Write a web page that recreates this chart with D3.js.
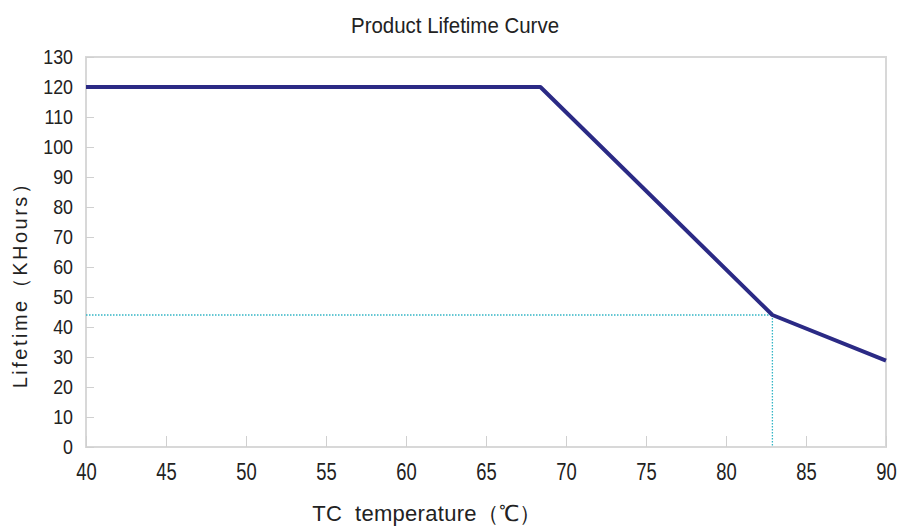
<!DOCTYPE html>
<html>
<head>
<meta charset="utf-8">
<script src="https://cdn.jsdelivr.net/npm/d3@7"></script>
<style>
  body { margin: 0; background: #fff; }
  text { font-family: "Liberation Sans", Arial, sans-serif; fill: #222; }
</style>
</head>
<body>
<div id="chart"></div>
<script>
// curve points
var temps = [40, 68.4, 82.9, 90];
var lifetimes = [120, 120, 44, 28.8];
// marked point (dotted guide lines)
var markTemp = 82.9;
var markLife = 44;
var xTicks = [40, 45, 50, 55, 60, 65, 70, 75, 80, 85, 90];
var yTicks = [0, 10, 20, 30, 40, 50, 60, 70, 80, 90, 100, 110, 120, 130];

var margin = { top: 57, right: 15, bottom: 85, left: 86 },
  width = 901 - margin.left - margin.right,
  height = 532 - margin.top - margin.bottom;

var x = d3.scaleLinear().domain([40, 90]).range([0, width]);
var y = d3.scaleLinear().domain([0, 130]).range([height, 0]);

var svg = d3.select("#chart").append("svg")
  .attr("width", 901)
  .attr("height", 532);

var g = svg.append("g")
  .attr("transform", "translate(" + margin.left + "," + margin.top + ")");

// frame
g.append("rect")
  .attr("width", width)
  .attr("height", height)
  .attr("fill", "none")
  .attr("stroke", "#d8d8d8")
  .attr("stroke-width", 2);

// axes, inward ticks
var xAxis = g.append("g")
  .attr("transform", "translate(0," + height + ")")
  .call(d3.axisBottom(x).tickValues(xTicks).tickSizeInner(-11).tickSizeOuter(0).tickPadding(17));
var yAxis = g.append("g")
  .call(d3.axisLeft(y).tickValues(yTicks).tickSizeInner(-8).tickSizeOuter(0));

[xAxis, yAxis].forEach(function (ax) {
  ax.select(".domain").remove();
  ax.selectAll(".tick line").attr("stroke", "#d0d0d0");
});

// the original font is a narrow one, so squeeze the labels a bit
xAxis.selectAll(".tick text")
  .style("font-size", "23px")
  .attr("fill", "#222")
  .attr("transform", "scale(0.8,1)");
yAxis.selectAll(".tick text")
  .style("font-size", "21px")
  .attr("fill", "#222")
  .attr("x", -13 / 0.85)
  .attr("transform", "scale(0.85,1)");

// dotted guides
g.append("line")
  .attr("x1", x(40)).attr("x2", x(markTemp))
  .attr("y1", y(markLife)).attr("y2", y(markLife))
  .attr("stroke", "#33b5c5").attr("stroke-width", 1.3)
  .attr("stroke-dasharray", "1.5,1.5");
g.append("line")
  .attr("x1", x(markTemp)).attr("x2", x(markTemp))
  .attr("y1", y(markLife)).attr("y2", y(0))
  .attr("stroke", "#33b5c5").attr("stroke-width", 1.3)
  .attr("stroke-dasharray", "1.5,1.5");

// curve
var data = temps.map(function (t, i) { return { t: t, v: lifetimes[i] }; });
g.append("path")
  .datum(data)
  .attr("fill", "none")
  .attr("stroke", "#2b2a85")
  .attr("stroke-width", 4)
  .attr("stroke-linejoin", "round")
  .attr("d", d3.line().x(function (d) { return x(d.t); }).y(function (d) { return y(d.v); }));

// title
svg.append("text")
  .attr("transform", "translate(455,33) scale(0.93,1)")
  .attr("text-anchor", "middle")
  .style("font-size", "22px")
  .text("Product Lifetime Curve");

// axis labels
svg.append("text")
  .attr("transform", "translate(427,521)")
  .attr("text-anchor", "middle")
  .style("font-size", "22px")
  .style("letter-spacing", "0.3px")
  .attr("xml:space", "preserve")
  .text("TC  temperature（℃）");

svg.append("text")
  .attr("transform", "translate(27,280) rotate(-90)")
  .attr("text-anchor", "middle")
  .style("font-size", "20px")
  .style("letter-spacing", "2.5px")
  .text("Lifetime（KHours）");
</script>
</body>
</html>
